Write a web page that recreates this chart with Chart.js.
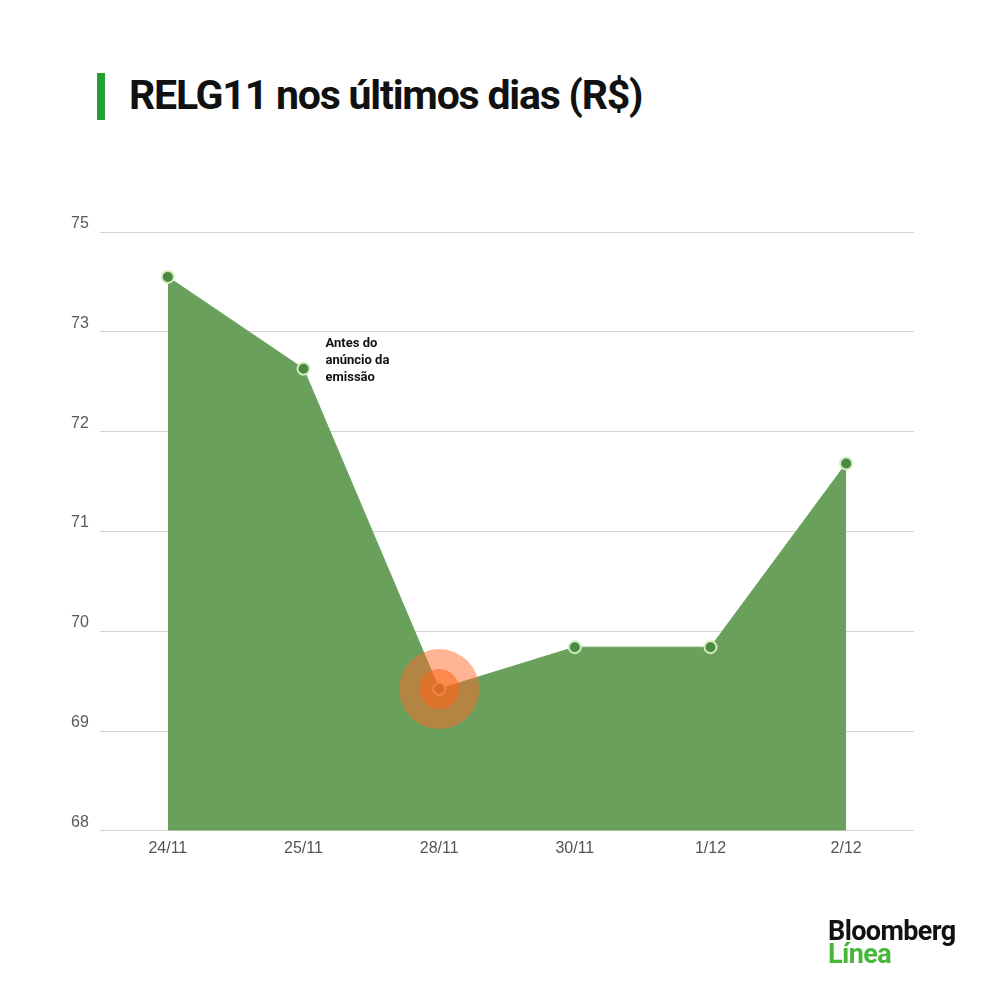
<!DOCTYPE html>
<html>
<head>
<meta charset="utf-8">
<script src="https://cdn.jsdelivr.net/npm/chart.js@4"></script>
<style>
  html, body { margin: 0; padding: 0; background: #fff; }
  body { width: 1000px; height: 984px; position: relative; overflow: hidden; font-family: "Liberation Sans", Arial, sans-serif; }
  #chartWrap { position: absolute; left: 0; top: 0; width: 1000px; height: 984px; }
  .title-bar { position: absolute; left: 97px; top: 73px; width: 8px; height: 47px; background: #22a033; }
  .title { position: absolute; left: 129px; top: 71px; font-family: Roboto, "Liberation Sans", sans-serif; font-weight: 700; font-size: 41px; letter-spacing: -1.2px; color: #111; white-space: nowrap; }
  .logo { position: absolute; left: 828px; top: 920px; font-family: Roboto, "Liberation Sans", sans-serif; font-weight: 700; font-size: 27px; line-height: 23px; letter-spacing: -0.6px; }
  .logo .b { color: #111; }
  .logo .l { color: #45b83a; }
</style>
</head>
<body>
<div class="title-bar"></div>
<div class="title">RELG11 nos últimos dias (R$)</div>
<div id="chartWrap"><canvas id="chart"></canvas></div>
<div class="logo"><div class="b">Bloomberg</div><div class="l">Línea</div></div>
<script>
// data
const dates = ['24/11', '25/11', '28/11', '30/11', '1/12', '2/12'];
const prices = [73.55, 72.63, 69.42, 69.84, 69.84, 71.68];
const yTickLabels = ['68', '69', '70', '71', '72', '73', '75']; // the original skips 74
const highlightIndex = 2;
const noteIndex = 1;
const noteLines = ['Antes do', 'anúncio da', 'emissão'];

const FILL_GREEN = '#69a05c';
const POINT_GREEN = '#4d8a41';

// y labels sit just above their gridline, left of the plot
const yLabelPlugin = {
    id: 'yLabels',
    afterDraw(chart) {
        const ctx = chart.ctx;
        const y = chart.scales.y;
        ctx.save();
        ctx.font = '16px "Liberation Sans", Arial, sans-serif';
        ctx.fillStyle = '#5a5a5a';
        ctx.textAlign = 'left';
        ctx.textBaseline = 'alphabetic';
        y.ticks.forEach((t, i) => {
            ctx.fillText(yTickLabels[i] || '', 71, y.getPixelForValue(t.value) - 4);
        });
        ctx.restore();
    }
};

// little note next to the 25/11 point
const notePlugin = {
    id: 'note',
    afterDatasetsDraw(chart) {
        const ctx = chart.ctx;
        const px = chart.scales.x.getPixelForValue(noteIndex);
        const py = chart.scales.y.getPixelForValue(prices[noteIndex]);
        ctx.save();
        ctx.font = 'bold 13px Roboto, "Liberation Sans", sans-serif';
        ctx.fillStyle = '#111';
        ctx.textAlign = 'left';
        ctx.textBaseline = 'middle';
        noteLines.forEach((line, i) => {
            ctx.fillText(line, px + 22, py - 25 + i * 17);
        });
        ctx.restore();
    }
};

const onlyHighlight = prices.map((v, i) => i === highlightIndex ? v : null);

new Chart(document.getElementById('chart'), {
    type: 'line',
    data: {
        labels: dates,
        datasets: [
            {
                data: onlyHighlight,
                showLine: false,
                pointRadius: 20,
                pointBackgroundColor: 'rgba(255, 100, 25, 0.55)',
                pointBorderWidth: 0,
                order: 0
            },
            {
                data: onlyHighlight,
                showLine: false,
                pointRadius: 40,
                pointBackgroundColor: 'rgba(255, 105, 40, 0.5)',
                pointBorderWidth: 0,
                order: 1
            },
            {
                data: prices,
                fill: 'start',
                backgroundColor: FILL_GREEN,
                borderColor: FILL_GREEN,
                borderWidth: 1,
                tension: 0,
                pointRadius: 6,
                pointBackgroundColor: POINT_GREEN,
                pointBorderColor: '#d2ecc0',
                pointBorderWidth: 2,
                order: 2
            }
        ]
    },
    options: {
        responsive: true,
        maintainAspectRatio: false,
        animation: false,
        layout: { padding: { left: 100, right: 86, top: 232, bottom: 118 } },
        plugins: { legend: { display: false }, tooltip: { enabled: false } },
        scales: {
            x: {
                offset: true,
                grid: { display: false, drawTicks: false },
                border: { display: false },
                ticks: {
                    color: '#555',
                    padding: 8,
                    font: { family: '"Liberation Sans", Arial, sans-serif', size: 16 }
                }
            },
            y: {
                min: 68,
                max: 74,
                grid: { color: '#d4d4d4', lineWidth: 1, drawTicks: false },
                border: { display: false },
                ticks: { display: false, stepSize: 1 }
            }
        }
    },
    plugins: [yLabelPlugin, notePlugin]
});
</script>
</body>
</html>
